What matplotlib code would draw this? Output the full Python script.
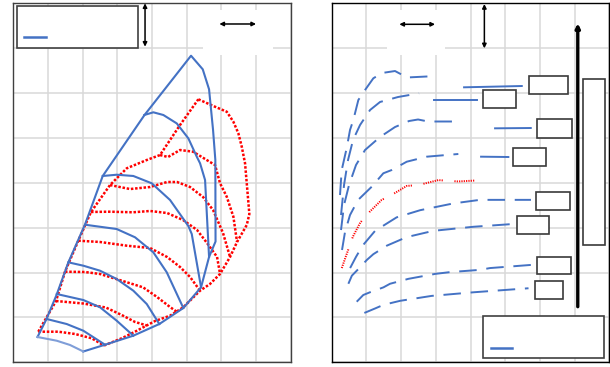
import numpy as np
import matplotlib.pyplot as plt
from matplotlib.patches import Rectangle

BLUE = '#4472C4'
LIGHT_BLUE = '#7F9ED8'
RED = '#FF0000'
GRID = '#D9D9D9'

# ---------------- left panel ----------------
# blue outline (left edge, apex, right edge, lower right edge)
outline_x = [0.698, 0.958, 1.252, 1.586, 2.068, 2.579, 3.784, 5.125, 5.463, 5.645, 5.760,
             5.826, 5.832, 5.645, 5.414, 4.903, 4.211, 3.461, 2.645, 2.019]
outline_y = [0.564, 0.965, 1.511, 2.224, 3.071, 4.152, 5.511, 6.832, 6.529, 6.084, 5.180,
             4.511, 2.692, 2.347, 1.671, 1.210, 0.853, 0.593, 0.392, 0.241]
bottom_x = [0.698, 1.252, 1.635, 2.019]
bottom_y = [0.564, 0.481, 0.386, 0.241]

blue_curves = [
    ([3.778, 4.038, 4.327, 4.713, 5.048, 5.291, 5.386, 5.530, 5.645],
     [5.511, 5.571, 5.511, 5.324, 4.990, 4.581, 4.434, 4.062, 2.351]),
    ([2.579, 2.982, 3.461, 3.992, 4.520, 5.048, 5.146, 5.414],
     [4.152, 4.180, 4.152, 3.989, 3.617, 3.037, 2.859, 1.671]),
    ([2.068, 2.982, 3.510, 4.038, 4.425, 4.903],
     [3.066, 2.970, 2.786, 2.451, 2.006, 1.210]),
    ([1.586, 2.019, 2.501, 2.982, 3.461, 3.848, 4.211],
     [2.228, 2.153, 2.041, 1.856, 1.596, 1.299, 0.853]),
    ([1.252, 2.019, 2.501, 2.982, 3.461],
     [1.522, 1.388, 1.226, 0.927, 0.593]),
    ([0.963, 1.540, 2.019, 2.645],
     [0.965, 0.853, 0.704, 0.392]),
]

red_left_x = [0.721, 1.232, 1.491, 1.875, 2.241, 2.789, 3.271, 3.848, 4.231, 4.808, 5.336]
red_left_y = [0.682, 1.366, 2.019, 2.710, 3.350, 3.950, 4.323, 4.508, 4.619, 5.288, 5.861]
red_right_x = [5.336, 5.769, 6.155, 6.346, 6.490, 6.588, 6.683, 6.732, 6.807, 6.732, 6.452,
               6.250, 5.962, 5.673, 5.385, 4.903, 4.520, 4.087, 3.510, 3.126, 2.616]
red_right_y = [5.861, 5.711, 5.584, 5.361, 5.103, 4.804, 4.434, 3.989, 3.304, 3.060, 2.681,
               2.347, 1.969, 1.746, 1.596, 1.226, 1.039, 0.920, 0.682, 0.535, 0.374]

red_curves = [
    ([4.231, 4.462, 4.808, 5.183, 5.578, 5.818, 5.962, 6.155, 6.346, 6.452],
     [4.619, 4.575, 4.731, 4.693, 4.508, 4.396, 3.989, 3.690, 3.245, 2.681]),
    ([2.789, 3.366, 3.943, 4.434, 4.722, 5.097, 5.472, 5.760, 6.048, 6.250],
     [3.950, 3.861, 3.906, 4.018, 4.018, 3.906, 3.683, 3.394, 2.881, 2.347]),
    ([2.241, 2.789, 3.453, 3.943, 4.434, 4.895, 5.299, 5.587, 5.876, 5.962],
     [3.350, 3.356, 3.343, 3.372, 3.327, 3.171, 2.948, 2.658, 2.347, 1.969]),
    ([1.875, 2.501, 3.279, 3.943, 4.434, 4.808, 5.097, 5.385],
     [2.710, 2.681, 2.598, 2.547, 2.347, 2.124, 1.901, 1.596]),
    ([1.491, 2.068, 2.501, 3.222, 3.741, 4.145, 4.520, 4.722],
     [2.019, 2.012, 1.968, 1.796, 1.671, 1.455, 1.232, 1.121]),
    ([1.232, 2.019, 2.669, 3.126, 3.510, 3.856],
     [1.366, 1.310, 1.221, 1.054, 0.899, 0.820]),
    ([0.721, 1.298, 1.780, 2.261, 2.616],
     [0.682, 0.682, 0.631, 0.535, 0.374]),
]

# ---------------- right panel ----------------
dash_curves = [
    ([0.239, 0.288, 0.432, 0.527, 0.622, 0.767, 0.960, 1.199, 1.450, 1.824, 2.170, 3.035],
     [3.728, 4.285, 4.775, 5.177, 5.399, 5.845, 6.068, 6.329, 6.447, 6.491, 6.347, 6.380]),
    ([0.268, 0.355, 0.470, 0.614, 0.816, 1.104, 1.392, 1.911, 2.516],
     [3.282, 3.951, 4.508, 4.954, 5.288, 5.622, 5.801, 5.912, 5.994]),
    ([0.268, 0.355, 0.499, 0.700, 0.960, 1.392, 1.824, 2.228, 2.487, 2.775, 3.611],
     [2.948, 3.505, 3.951, 4.397, 4.731, 5.021, 5.243, 5.377, 5.411, 5.366, 5.366]),
    ([0.297, 0.383, 0.527, 0.758, 1.153, 1.487, 1.729, 2.161, 2.738, 3.648],
     [2.503, 2.904, 3.282, 3.617, 3.913, 4.212, 4.285, 4.470, 4.582, 4.642]),
    ([0.53, 0.70, 0.89, 1.25, 1.87, 2.55, 3.50, 4.27, 5.74],
     [2.10, 2.35, 2.60, 2.93, 3.23, 3.39, 3.54, 3.62, 3.62]),
    ([0.48, 0.58, 0.82, 1.01, 1.20, 1.59, 2.16, 2.93, 4.08, 5.19],
     [1.75, 1.93, 2.12, 2.28, 2.41, 2.60, 2.79, 2.93, 3.02, 3.08]),
    ([0.72, 0.91, 1.10, 1.49, 1.68, 2.21, 2.98, 3.41, 4.27, 4.56, 5.74],
     [1.35, 1.50, 1.56, 1.67, 1.75, 1.86, 1.97, 2.01, 2.06, 2.10, 2.17]),
    ([0.94, 1.25, 1.49, 1.97, 2.88, 4.08, 5.67],
     [1.10, 1.20, 1.28, 1.37, 1.48, 1.56, 1.65]),
]
leaders = [
    ([3.813, 5.476], [6.128, 6.157]),
    ([2.957, 4.196], [5.845, 5.845]),
    ([4.706, 5.735], [5.214, 5.221]),
    ([4.303, 5.089], [4.582, 4.575]),
]
red_dot_x = [0.29, 0.38, 0.61, 0.82, 1.10, 1.44, 1.73, 2.16, 2.50, 3.07, 3.64, 4.36]
red_dot_y = [2.10, 2.30, 2.80, 3.11, 3.36, 3.62, 3.73, 3.93, 3.95, 4.06, 4.03, 4.06]

# label boxes: x0, x1, y0, y1
boxes = [
    (5.695, 6.818, 5.972, 6.380),
    (4.352, 5.311, 5.660, 6.068),
    (5.925, 6.916, 5.005, 5.415),
    (5.216, 6.176, 4.368, 4.775),
    (5.888, 6.867, 3.401, 3.802),
    (5.331, 6.271, 2.859, 3.260),
    (5.908, 6.888, 1.961, 2.353),
    (5.850, 6.657, 1.411, 1.812),
    (7.251, 7.876, 2.625, 6.306),
]

fig = plt.figure(figsize=(6.1, 3.67), dpi=100)
axL = fig.add_axes([0.0218, 0.0128, 0.4548, 0.9782])
axR = fig.add_axes([0.5438, 0.0128, 0.4552, 0.9782])

for ax in (axL, axR):
    ax.set_xlim(0, 8)
    ax.set_ylim(0, 8)
    ax.set_xticks(range(9))
    ax.set_yticks(range(9))
    ax.tick_params(length=0, labelbottom=False, labelleft=False)
    ax.grid(True, color=GRID, lw=1.1)
    ax.set_axisbelow(True)
for s in axL.spines.values():
    s.set_color('#404040')
    s.set_linewidth(1.0)
for s in axR.spines.values():
    s.set_color('black')
    s.set_linewidth(1.0)

arrow_kw = dict(arrowstyle='<|-|>', color='black', lw=1.1, mutation_scale=6, shrinkA=0, shrinkB=0)

# left panel drawing
dotted = (0, (1, 0.7))
axL.plot(red_left_x, red_left_y, color=RED, lw=1.8, ls=dotted)
axL.plot(red_right_x, red_right_y, color=RED, lw=1.8, ls=dotted)
for xs, ys in red_curves:
    axL.plot(xs, ys, color=RED, lw=1.8, ls=dotted)
axL.plot(outline_x, outline_y, color=BLUE, lw=1.5)
axL.plot(bottom_x, bottom_y, color=LIGHT_BLUE, lw=1.5)
for xs, ys in blue_curves:
    axL.plot(xs, ys, color=BLUE, lw=1.5)

axL.add_patch(Rectangle((5.47, 6.85), 2.02, 1.0, facecolor='white', edgecolor='none', zorder=1))
axL.add_patch(Rectangle((0.115, 7.011), 3.49, 0.929, facecolor='white', edgecolor='#404040', lw=1.2, zorder=3))
axL.plot([0.317, 0.935], [7.242, 7.242], color=BLUE, lw=1.8, zorder=4)
axL.annotate('', xy=(3.799, 8.0), xytext=(3.799, 7.033), arrowprops=arrow_kw)
axL.annotate('', xy=(5.942, 7.539), xytext=(7.0, 7.539), arrowprops=arrow_kw)

# right panel drawing
axR.add_patch(Rectangle((1.58, 6.85), 1.69, 1.0, facecolor='white', edgecolor='none', zorder=1))
for xs, ys in dash_curves:
    axR.plot(xs, ys, color=BLUE, lw=1.4, ls=(0, (9, 5)))
for xs, ys in leaders:
    axR.plot(xs, ys, color=BLUE, lw=1.4)
red_pattern = (0, [0.6, 0.6] * 8 + [0.6, 6])
axR.plot(red_dot_x, red_dot_y, color=RED, lw=1.4, ls=red_pattern)

for x0, x1, y0, y1 in boxes:
    axR.add_patch(Rectangle((x0, y0), x1 - x0, y1 - y0, facecolor='white',
                            edgecolor='#3A3A3A', lw=1.2, zorder=3))

axR.annotate('', xy=(7.089, 7.554), xytext=(7.089, 1.239),
             arrowprops=dict(arrowstyle='-|>', color='black', lw=2.4, mutation_scale=6,
                             shrinkA=0, shrinkB=0))
axR.annotate('', xy=(1.948, 7.532), xytext=(2.977, 7.532), arrowprops=arrow_kw)
axR.annotate('', xy=(4.398, 7.984), xytext=(4.398, 6.997), arrowprops=arrow_kw)

axR.add_patch(Rectangle((4.369, 0.096), 3.487, 0.942, facecolor='white', edgecolor='#404040', lw=1.2, zorder=3))
axR.plot([4.582, 5.187], [0.325, 0.325], color=BLUE, lw=1.8, zorder=4)

fig.savefig('out.png', dpi=100)
